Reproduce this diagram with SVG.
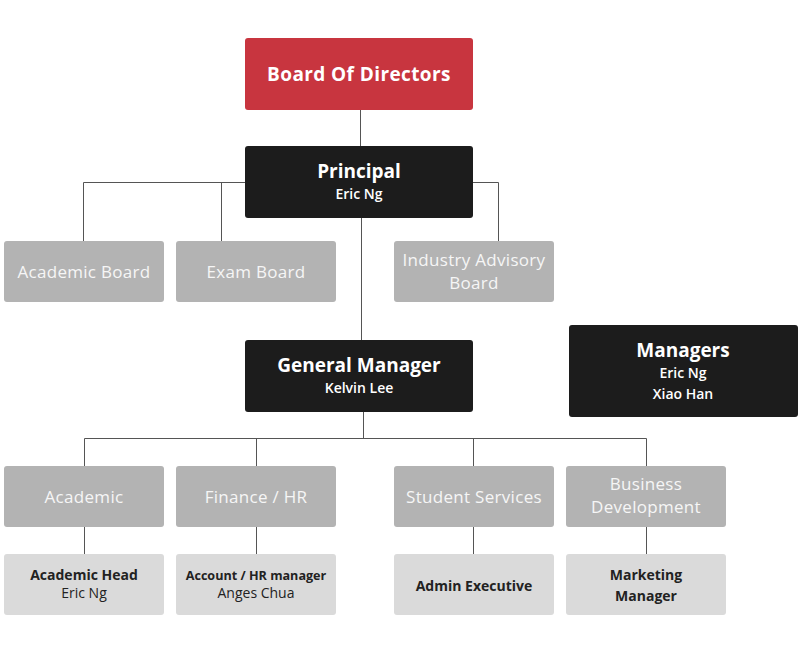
<svg xmlns="http://www.w3.org/2000/svg" width="800" height="652" viewBox="0 0 800 652">
<style>
text{font-family:"Open Sans","Liberation Sans",sans-serif;text-anchor:middle}
.red{fill:#c8353f}
.blk{fill:#1c1c1c}
.gry{fill:#b3b3b3}
.lgt{fill:#dadada}
.t1{font-size:19px;font-weight:700;fill:#fff}
.s1{font-size:14px;font-weight:600;fill:#fff}
.t2{font-size:17px;fill:#f6f6f6;letter-spacing:0.3px}
.t3{font-size:14px;font-weight:700;fill:#222}
.s3{font-size:14px;fill:#222}
.c{stroke:#555;stroke-width:1;fill:none}
</style>
<rect width="800" height="652" fill="#fff"/>
<g id="connectors" class="c">
<path d="M360.5 110V146"/>
<path d="M245 182.5H83.5V241M221.5 182.5V241"/>
<path d="M473 182.5H498.5V241"/>
<path d="M361.5 218V340"/>
<path d="M363.5 412V438.5M84.5 438.5H646.5M84.5 438.5V466M256.5 438.5V466M473.5 438.5V466M646.5 438.5V466"/>
<path d="M84.5 527V554M256.5 527V554M473.5 527V554M646.5 527V554"/>
</g>
<g id="board"><rect class="red" x="245" y="38" width="228" height="72" rx="3"/><text class="t1" x="359" y="81" style="letter-spacing:0.4px">Board Of Directors</text></g>
<g id="principal"><rect class="blk" x="245" y="146" width="228" height="72" rx="3"/><text class="t1" x="359" y="178">Principal</text><text class="s1" x="359" y="199">Eric Ng</text></g>
<g id="academic-board"><rect class="gry" x="4" y="241" width="160" height="61" rx="3"/><text class="t2" x="84" y="278">Academic Board</text></g>
<g id="exam-board"><rect class="gry" x="176" y="241" width="160" height="61" rx="3"/><text class="t2" x="256" y="278">Exam Board</text></g>
<g id="industry-board"><rect class="gry" x="394" y="241" width="160" height="61" rx="3"/><text class="t2" x="474" y="266">Industry Advisory</text><text class="t2" x="474" y="289">Board</text></g>
<g id="general-manager"><rect class="blk" x="245" y="340" width="228" height="72" rx="3"/><text class="t1" x="359" y="372">General Manager</text><text class="s1" x="359" y="393">Kelvin Lee</text></g>
<g id="managers"><rect class="blk" x="569" y="325" width="229" height="92" rx="3"/><text class="t1" x="683" y="357">Managers</text><text class="s1" x="683" y="378">Eric Ng</text><text class="s1" x="683" y="399">Xiao Han</text></g>
<g id="academic"><rect class="gry" x="4" y="466" width="160" height="61" rx="3"/><text class="t2" x="84" y="503">Academic</text></g>
<g id="finance"><rect class="gry" x="176" y="466" width="160" height="61" rx="3"/><text class="t2" x="256" y="503">Finance / HR</text></g>
<g id="student-services"><rect class="gry" x="394" y="466" width="160" height="61" rx="3"/><text class="t2" x="474" y="503">Student Services</text></g>
<g id="business-dev"><rect class="gry" x="566" y="466" width="160" height="61" rx="3"/><text class="t2" x="646" y="490">Business</text><text class="t2" x="646" y="513">Development</text></g>
<g id="academic-head"><rect class="lgt" x="4" y="554" width="160" height="61" rx="3"/><text class="t3" x="84" y="580">Academic Head</text><text class="s3" x="84" y="598">Eric Ng</text></g>
<g id="account-hr"><rect class="lgt" x="176" y="554" width="160" height="61" rx="3"/><text class="t3" x="256" y="580" style="font-size:12.6px">Account / HR manager</text><text class="s3" x="256" y="598">Anges Chua</text></g>
<g id="admin-exec"><rect class="lgt" x="394" y="554" width="160" height="61" rx="3"/><text class="t3" x="474" y="591">Admin Executive</text></g>
<g id="marketing"><rect class="lgt" x="566" y="554" width="160" height="61" rx="3"/><text class="t3" x="646" y="580">Marketing</text><text class="t3" x="646" y="601">Manager</text></g>
</svg>
